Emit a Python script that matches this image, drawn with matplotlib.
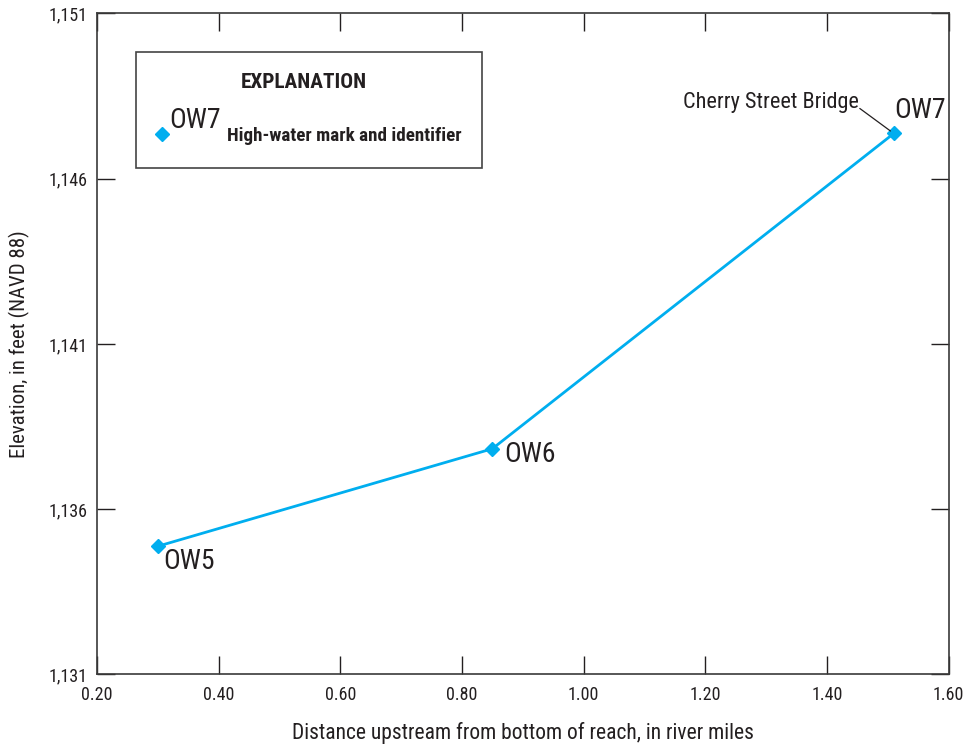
import matplotlib
matplotlib.use("Agg")
import matplotlib.pyplot as plt
from matplotlib.patches import Rectangle
from matplotlib.lines import Line2D

plt.rcParams['font.family'] = ['Roboto Condensed', 'Open Sans Condensed',
                               'Liberation Sans Narrow', 'Roboto', 'DejaVu Sans']

# High-water marks along the reach
distance_mi = [0.30, 0.85, 1.51]
elevation_ft = [1134.88, 1137.83, 1147.37]
mark_ids = ["OW5", "OW6", "OW7"]

x_ticks = [0.20, 0.40, 0.60, 0.80, 1.00, 1.20, 1.40, 1.60]
y_ticks = [1131, 1136, 1141, 1146, 1151]

COLOR = "#00AEEF"
TEXT = "#231F20"

fig = plt.figure(figsize=(9.67, 7.49), dpi=100)
ax = fig.add_axes([0.1003, 0.0995, 0.8806, 0.8825])

ax.plot(distance_mi, elevation_ft, color=COLOR, lw=2.0, marker="D",
        markersize=7, markerfacecolor=COLOR, markeredgecolor=COLOR, zorder=3)

ax.set_xlim(0.20, 1.60)
ax.set_ylim(1131, 1151)
ax.set_xticks(x_ticks)
ax.set_xticklabels([f"{v:.2f}" for v in x_ticks])
ax.set_yticks(y_ticks)
ax.set_yticklabels([f"{v:,}" for v in y_ticks])

ax.tick_params(axis="both", direction="in", length=13, width=1.0,
               top=True, right=True, labelsize=13, colors=TEXT, pad=7)
ax.tick_params(axis="x", pad=8.5)
for s in ax.spines.values():
    s.set_linewidth(1.2)
    s.set_color("#3a3a3a")

ax.set_xlabel("Distance upstream from bottom of reach, in river miles",
              fontsize=15.5, color=TEXT, labelpad=13)
ax.set_ylabel("Elevation, in feet (NAVD 88)", fontsize=15, color=TEXT, labelpad=13)

# Mark identifiers
offsets = {"OW5": (5, -2, "left", "top"),
           "OW6": (12, -6, "left", "center"),
           "OW7": (0, 9, "left", "bottom")}
for x, y, lab in zip(distance_mi, elevation_ft, mark_ids):
    dx, dy, ha, va = offsets[lab]
    ax.annotate(lab, (x, y), xytext=(dx, dy), textcoords="offset pixels",
                ha=ha, va=va, fontsize=20, color=TEXT)

# Landmark callout: leader line, then its label
ax.annotate("", (distance_mi[2], elevation_ft[2]), xytext=(-34, 25),
            textcoords="offset pixels",
            arrowprops=dict(arrowstyle="-", color=TEXT, lw=0.9,
                            shrinkA=0, shrinkB=3))
ax.annotate("Cherry Street Bridge", (distance_mi[2], elevation_ft[2]),
            xytext=(-35, 25), textcoords="offset pixels", ha="right",
            va="baseline", fontsize=16, color=TEXT)

# Explanation box (figure pixel coordinates converted to fractions)
W, H = 967, 749
def fx(px):
    return px / W
def fy(py):
    return 1 - py / H

fig.patches.append(Rectangle((fx(136), fy(168)), fx(482) - fx(136), fy(52) - fy(168),
                             transform=fig.transFigure, fill=False,
                             edgecolor="#444444", lw=1.2, zorder=5))
fig.text(fx(304), fy(82), "EXPLANATION", ha="center", va="center",
         fontsize=15.3, fontweight="bold", color=TEXT)
fig.add_artist(Line2D([fx(162)], [fy(134)], marker="D", markersize=7,
                      color=COLOR, transform=fig.transFigure))
fig.text(fx(169), fy(128), "OW7", ha="left", va="baseline",
         fontsize=20, color=TEXT)
fig.text(fx(227), fy(136), "High-water mark and identifier", ha="left",
         va="center", fontsize=13.7, fontweight="bold", color=TEXT)

fig.savefig("out.png", dpi=100)
